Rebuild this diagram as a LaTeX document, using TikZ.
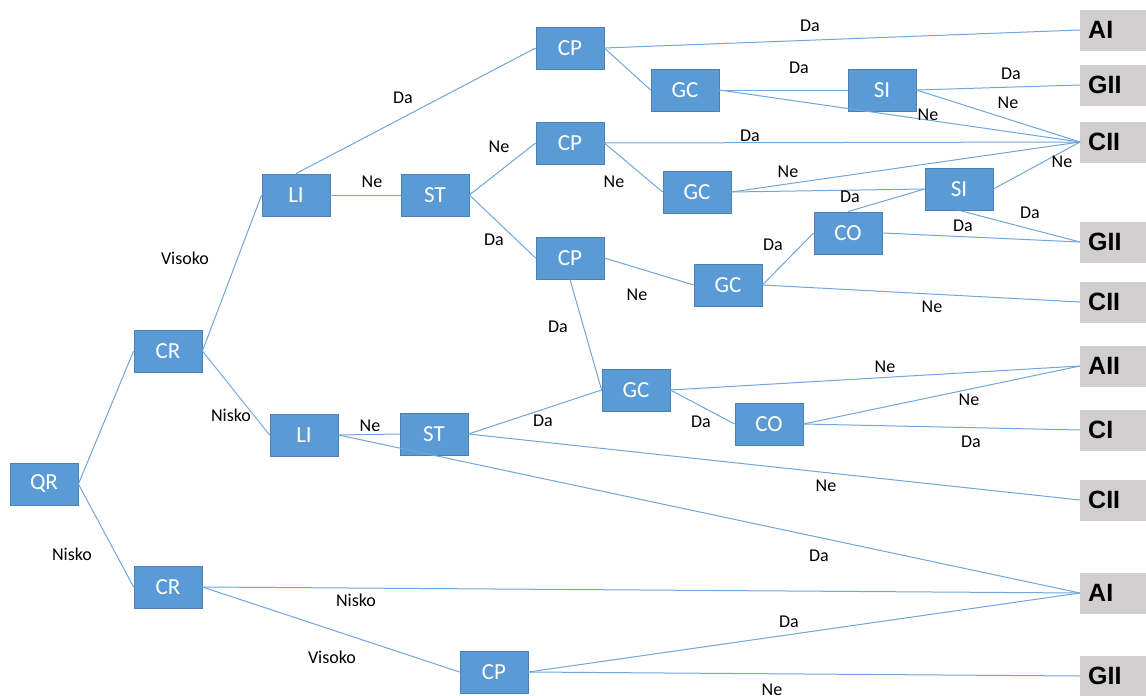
\documentclass[tikz,border=0pt]{standalone}
\usepackage{fontspec}
\setmainfont{Carlito}
\newfontfamily\termfont{Liberation Sans}
\definecolor{boxblue}{HTML}{5B9BD5}
\definecolor{boxedge}{HTML}{4A82B8}
\definecolor{linkblue}{HTML}{6FA6DB}
\definecolor{termgray}{HTML}{D0CECE}
\begin{document}
\begin{tikzpicture}[x=1pt,y=-1pt,
  dec/.style={rectangle, fill=boxblue, draw=boxedge, line width=0.8pt,
    minimum width=68pt, minimum height=42pt, inner sep=0pt,
    text=white, font=\fontsize{23}{25}\selectfont},
  term/.style={rectangle, fill=termgray, anchor=west, inner xsep=8pt, inner ysep=0pt,
    text width=50pt, minimum height=41pt, align=left,
    font=\termfont\bfseries\fontsize{25}{27}\selectfont},
  link/.style={draw=linkblue, line width=1pt},
  lbl/.style={font=\fontsize{18}{20}\selectfont, inner sep=0pt}]
\useasboundingbox (0,0) rectangle (1146,696);
% decision nodes
\node[dec] (qr)  at (44,484)  {QR};
\node[dec] (cr1) at (168,351) {CR};
\node[dec] (cr2) at (168,587) {CR};
\node[dec] (li1) at (296,195) {LI};
\node[dec] (st1) at (435,195) {ST};
\node[dec] (li2) at (304,435) {LI};
\node[dec] (st2) at (434,434) {ST};
\node[dec] (cp1) at (570,48)  {CP};
\node[dec] (cp2) at (570,143) {CP};
\node[dec] (cp3) at (570,258) {CP};
\node[dec] (cp4) at (494,672) {CP};
\node[dec] (gc1) at (685,90)  {GC};
\node[dec] (gc2) at (697,192) {GC};
\node[dec] (gc3) at (728,285) {GC};
\node[dec] (gc4) at (636,390) {GC};
\node[dec] (si1) at (882,90)  {SI};
\node[dec] (si2) at (959,189) {SI};
\node[dec] (co1) at (848,233) {CO};
\node[dec] (co2) at (769,424) {CO};
% terminal nodes
\node[term] (t1)  at (1080,30)  {AI};
\node[term] (t2)  at (1080,85)  {GII};
\node[term] (t3)  at (1080,142) {CII};
\node[term] (t4)  at (1080,242) {GII};
\node[term] (t5)  at (1080,302) {CII};
\node[term] (t6)  at (1080,366) {AII};
\node[term] (t7)  at (1080,430) {CI};
\node[term] (t8)  at (1080,500) {CII};
\node[term] (t9)  at (1080,593) {AI};
\node[term] (t10) at (1080,676) {GII};
% connectors
\path[link] (qr.east) -- (cr1.west);
\path[link] (qr.east) -- (cr2.west) node[lbl] (l01) at (72,554) {Nisko};
\path[link] (cr1.east) -- (li1.west) node[lbl] (l02) at (185,258) {Visoko};
\path[link] (cr1.east) -- (li2.west) node[lbl] (l03) at (231,415) {Nisko};
\path[link] (li1.north) -- (cp1.west) node[lbl] (l04) at (403,98) {Da};
\path[link] (li1.east) -- (st1.west) node[lbl] (l05) at (372,182) {Ne};
\path[link] (st1.east) -- (cp2.west) node[lbl] (l06) at (499,147) {Ne};
\path[link] (st1.east) -- (cp3.west) node[lbl] (l07) at (494,240) {Da};
\path[link] (cp1.east) -- (t1.west) node[lbl] (l08) at (810,26) {Da};
\path[link] (cp1.east) -- (gc1.west);
\path[link] (gc1.east) -- (si1.west) node[lbl] (l09) at (799,68) {Da};
\path[link] (gc1.east) -- (t3.west) node[lbl] (l10) at (928,115) {Ne};
\path[link] (si1.east) -- (t2.west) node[lbl] (l11) at (1011,74) {Da};
\path[link] (si1.east) -- (t3.west) node[lbl] (l12) at (1008,103) {Ne};
\path[link] (cp2.east) -- (t3.west) node[lbl] (l13) at (750,136) {Da};
\path[link] (cp2.east) -- (gc2.west) node[lbl] (l14) at (614,182) {Ne};
\path[link] (gc2.east) -- (t3.west) node[lbl] (l15) at (788,172) {Ne};
\path[link] (gc2.east) -- (si2.west) node[lbl] (l16) at (850,197) {Da};
\path[link] (si2.east) -- (t3.west) node[lbl] (l17) at (1062,162) {Ne};
\path[link] (si2.south) -- (t4.west) node[lbl] (l18) at (1030,213) {Da};
\path[link] (co1.north) -- (si2.west);
\path[link] (co1.east) -- (t4.west) node[lbl] (l19) at (963,226) {Da};
\path[link] (gc3.east) -- (co1.west) node[lbl] (l20) at (773,245) {Da};
\path[link] (cp3.east) -- (gc3.west) node[lbl] (l21) at (637,295) {Ne};
\path[link] (gc3.east) -- (t5.west) node[lbl] (l22) at (932,307) {Ne};
\path[link] (cp3.south) -- (gc4.west) node[lbl] (l23) at (558,327) {Da};
\path[link] (st2.east) -- (gc4.west) node[lbl] (l24) at (543,421) {Da};
\path[link] (gc4.east) -- (t6.west) node[lbl] (l25) at (885,367) {Ne};
\path[link] (gc4.east) -- (co2.west) node[lbl] (l26) at (701,422) {Da};
\path[link] (co2.east) -- (t6.west) node[lbl] (l27) at (969,400) {Ne};
\path[link] (co2.east) -- (t7.west) node[lbl] (l28) at (971,442) {Da};
\path[link] (li2.east) -- (st2.west) node[lbl] (l29) at (370,426) {Ne};
\path[link] (st2.east) -- (t8.west) node[lbl] (l30) at (826,486) {Ne};
\path[link] (li2.east) -- (t9.west) node[lbl] (l31) at (819,556) {Da};
\path[link] (cr2.east) -- (t9.west) node[lbl] (l32) at (356,600) {Nisko};
\path[link] (cr2.east) -- (cp4.west) node[lbl] (l33) at (332,657) {Visoko};
\path[link] (cp4.east) -- (t9.west) node[lbl] (l34) at (789,622) {Da};
\path[link] (cp4.east) -- (t10.west) node[lbl] (l35) at (772,690) {Ne};
\end{tikzpicture}
\end{document}
